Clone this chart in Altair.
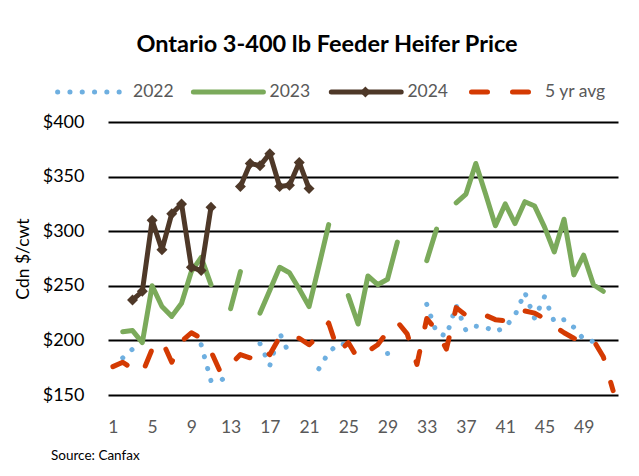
import altair as alt
import pandas as pd
import numpy as np

N = None
weeks = list(range(1, 53))
y2022 = [N, 184, 192, N, N, N, N, N, N, 196, 163, 163, 171, N, N, 197, 177, 207, 187, N,
         N, 174, 189, 197, 196, N, N, N, 188, 189, N, N, 233, 207, 204, 232, 209, 213, 212, 208,
         212, 223, 244, 220, 240, 217, 219, 212, 201, 199, 199, N]
y2023 = [N, 208, 209, 198, 250, 231, 222, 234, 263, 276, 251, N, 229, 263, N, 225, 246, 267, 262, 247,
         231, 268, 306, N, 241, 215, 259, 251, 256, 290, N, N, 273, 302, N, 326, 334, 362, 334, 305,
         325, 307, 327, 323, 304, 281, 311, 260, 278, 251, 245, N]
y2024 = [N, N, 237, 245, 310, 283, 316, 325, 267, 264, 322, N, N, 341, 362, 360, 371, 341, 342, 363,
         339] + [N] * 31
yavg = [176, 180, 174, 170, 192, 200, 180, 199, 207, 202, 190, 170, 178, 187, 184, 193, 187, 203, 200, 202,
        196, 204, 216, 189, 198, 183, 190, 196, 208, 217, 206, 178, 220, 209, 192, 230, 223, 226, 223, 219,
        218, 221, 227, 225, 220, 213, 207, 202, 198, 200, 185, 154]

series_names = ["2022", "2023", "2024", "5 yr avg"]
series_values = [y2022, y2023, y2024, yavg]
colors = ["#6EAFE0", "#7BAA5B", "#4E3828", "#D43A02"]
y_ticks = [150, 200, 250, 300, 350, 400]
x_ticks = list(range(1, 53, 4))
title_text = "Ontario 3-400 lb Feeder Heifer Price"
y_title = "Cdn $/cwt"
source_text = "Source:  Canfax"

rows = []
for name, vals in zip(series_names, series_values):
    for w, v in zip(weeks, vals):
        rows.append({"week": w, "value": np.nan if v is None else float(v), "series": name})
df = pd.DataFrame(rows)

FONT = "Lato"
W, H = 510, 273

base = alt.Chart(df).encode(
    x=alt.X("week:Q", scale=alt.Scale(domain=[0.5, 52.5], nice=False, zero=False),
            axis=alt.Axis(values=x_ticks, title=None, grid=False, ticks=False, domain=False,
                          labelFont=FONT, labelFontSize=17.5, labelColor="#595959",
                          labelPadding=23, labelFlush=False)),
    y=alt.Y("value:Q", scale=alt.Scale(domain=[150, 400], nice=False, zero=False),
            axis=alt.Axis(values=y_ticks, title=y_title, grid=True, gridColor="#000000",
                          gridWidth=2, ticks=False, domain=False, labelExpr="'$' + datum.value",
                          labelFont=FONT, labelFontSize=18, labelColor="#000000", labelPadding=24,
                          titleFont=FONT, titleFontSize=17.5, titleFontWeight="normal",
                          titleColor="#000000", titleX=-85, titleY=H / 2, titleAngle=270,
                          titleAlign="center", titleBaseline="middle")),
)

inv = "break-paths-show-domains"
l2022 = base.transform_filter(alt.datum.series == "2022").mark_line(
    color=colors[0], strokeWidth=5, strokeDash=[0.1, 12.2], strokeCap="round", invalid=inv)
l2023 = base.transform_filter(alt.datum.series == "2023").mark_line(
    color=colors[1], strokeWidth=5, strokeCap="round", strokeJoin="round", invalid=inv)
l2024 = base.transform_filter(alt.datum.series == "2024").mark_line(
    color=colors[2], strokeWidth=5, strokeCap="round", strokeJoin="round", invalid=inv)
p2024 = base.transform_filter(alt.datum.series == "2024").mark_point(
    shape="diamond", filled=True, color=colors[2], size=120, opacity=1)
lavg = base.transform_filter(alt.datum.series == "5 yr avg").mark_line(
    color=colors[3], strokeWidth=5, strokeDash=[16, 25], strokeCap="round", strokeJoin="round", invalid=inv)

one = pd.DataFrame({"k": [0]})

def txt(s, x, y, size, color, weight="normal", align="left"):
    return alt.Chart(pd.DataFrame({"t": [s]})).mark_text(
        font=FONT, fontSize=size, color=color, fontWeight=weight, align=align, baseline="middle"
    ).encode(x=alt.value(x), y=alt.value(y), text="t:N")

def rule(x1, x2, y, color, dash=None):
    kw = dict(color=color, strokeWidth=5, strokeCap="round")
    if dash is not None:
        kw["strokeDash"] = dash
    return alt.Chart(one).mark_rule(**kw).encode(x=alt.value(x1), x2=alt.value(x2), y=alt.value(y))

LY = -30
legend = [
    rule(-50.4, 12, LY, colors[0], [0.1, 12.2]),
    txt(series_names[0], 25, LY, 17.5, "#595959"),
    rule(85.4, 155.4, LY, colors[1]),
    txt(series_names[1], 161.5, LY, 17.5, "#595959"),
    rule(223.3, 293.2, LY, colors[2]),
    alt.Chart(one).mark_point(shape="diamond", filled=True, color=colors[2], size=120, opacity=1).encode(
        x=alt.value(257.4), y=alt.value(LY)),
    txt(series_names[2], 299.4, LY, 17.5, "#595959"),
    rule(363.5, 422.5, LY, colors[3], [16, 25]),
    txt(series_names[3], 437, LY, 17.5, "#595959"),
]

title = txt(title_text, 219, -77, 23.5, "#000000", weight="bold", align="center")
source = txt(source_text, -57, 334, 13.5, "#000000")

chart = alt.layer(l2022, l2023, l2024, p2024, lavg, title, source, *legend).properties(
    width=W, height=H,
    autosize=alt.AutoSizeParams(type="none"),
    padding={"left": 100, "top": 114, "right": 13, "bottom": 75},
).configure_view(stroke=None)

chart.save("out.html", embed_options={"renderer": "svg", "actions": False})
